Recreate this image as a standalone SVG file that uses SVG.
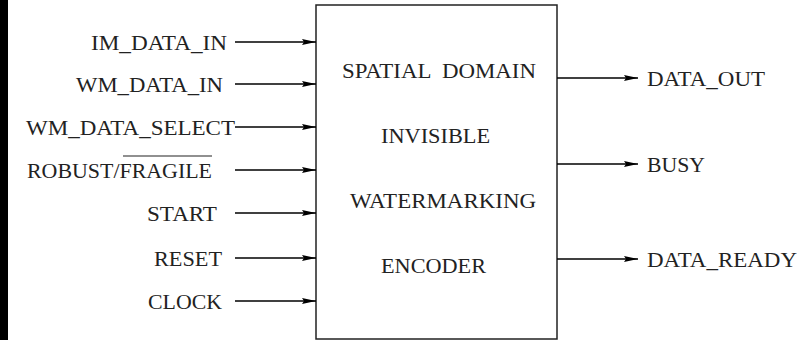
<svg xmlns="http://www.w3.org/2000/svg" width="799" height="340" viewBox="0 0 799 340">
<style>
text{font-size:20px;fill:#222;white-space:pre}
.w{stroke:#000;stroke-width:1.3;fill:none}
</style>
<defs>
<marker id="ah" markerUnits="userSpaceOnUse" markerWidth="15" markerHeight="8" refX="14" refY="3.5" orient="auto">
<path d="M0,0.5 L14,3.5 L0,6.5 L2,3.5 z" fill="#000"/>
</marker>
</defs>
<rect x="0" y="0" width="799" height="340" fill="#fff"/>
<rect x="0" y="0" width="8" height="340" fill="#000"/>
<g font-family="'Liberation Serif', 'DejaVu Serif', serif">
<g id="encoder">
<rect x="316" y="5" width="241" height="334" fill="#fff" stroke="#222" stroke-width="1.5"/>
<text x="342" y="78" textLength="194" lengthAdjust="spacingAndGlyphs">SPATIAL  DOMAIN</text>
<text x="381" y="143" textLength="109" lengthAdjust="spacingAndGlyphs">INVISIBLE</text>
<text x="350" y="208" textLength="186" lengthAdjust="spacingAndGlyphs">WATERMARKING</text>
<text x="381" y="273" textLength="105" lengthAdjust="spacingAndGlyphs">ENCODER</text>
</g>
<g id="inputs">
<text id="in1" x="91" y="50" textLength="136" lengthAdjust="spacingAndGlyphs">IM_DATA_IN</text>
<text id="in2" x="76" y="92" textLength="147" lengthAdjust="spacingAndGlyphs">WM_DATA_IN</text>
<text id="in3" x="26" y="135" textLength="209" lengthAdjust="spacingAndGlyphs">WM_DATA_SELECT</text>
<g id="in4">
<text x="27" y="178" textLength="185" lengthAdjust="spacingAndGlyphs">ROBUST/FRAGILE</text>
<line x1="123" y1="156" x2="212" y2="156" stroke="#222" stroke-width="1.2"/>
</g>
<text id="in5" x="147" y="221" textLength="70" lengthAdjust="spacingAndGlyphs">START</text>
<text id="in6" x="154" y="266" textLength="68" lengthAdjust="spacingAndGlyphs">RESET</text>
<text id="in7" x="148" y="309" textLength="74" lengthAdjust="spacingAndGlyphs">CLOCK</text>
</g>
<g id="outputs">
<text id="out1" x="647" y="86" textLength="118" lengthAdjust="spacingAndGlyphs">DATA_OUT</text>
<text id="out2" x="647" y="172" textLength="58" lengthAdjust="spacingAndGlyphs">BUSY</text>
<text id="out3" x="647" y="267" textLength="150" lengthAdjust="spacingAndGlyphs">DATA_READY</text>
</g>
</g>
<g id="connectors" class="w" marker-end="url(#ah)">
<line x1="235" y1="42" x2="316" y2="42"/>
<line x1="235" y1="84" x2="316" y2="84"/>
<line x1="235" y1="127" x2="316" y2="127"/>
<line x1="235" y1="170" x2="316" y2="170"/>
<line x1="235" y1="213" x2="316" y2="213"/>
<line x1="235" y1="258" x2="316" y2="258"/>
<line x1="235" y1="301" x2="316" y2="301"/>
<line x1="557" y1="78" x2="638" y2="78"/>
<line x1="557" y1="164" x2="638" y2="164"/>
<line x1="557" y1="259" x2="638" y2="259"/>
</g>
</svg>
